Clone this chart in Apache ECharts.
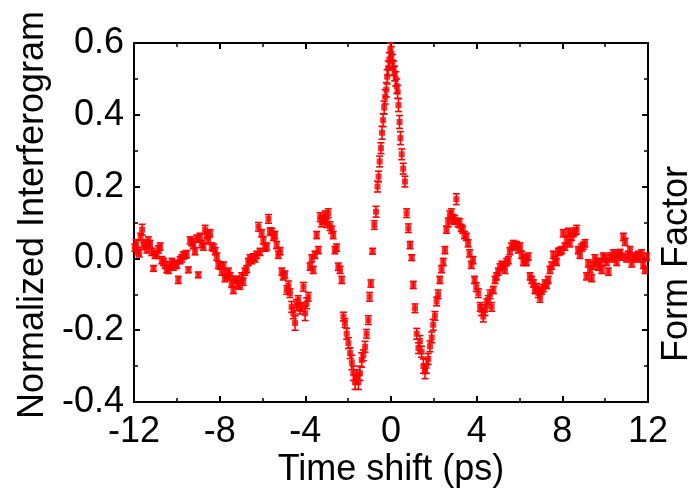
<!DOCTYPE html>
<html>
<head>
<meta charset="utf-8">
<script src="https://cdn.jsdelivr.net/npm/echarts@6/dist/echarts.min.js"></script>
<style>html,body{margin:0;padding:0;background:#fff}#c{width:695px;height:502px}</style>
</head>
<body>
<div id="c"></div>
<script>
// ---- data ----
const timeShift = [
-11.96,-11.90,-11.83,-11.76,-11.69,-11.62,-11.55,-11.48,-11.40,-11.33,-11.25,-11.17,-11.09,-11.02,-10.94,-10.86,-10.78,-10.70,-10.62,-10.55,
-10.47,-10.39,-10.31,-10.23,-10.16,-10.08,-10.00,-9.93,-9.85,-9.77,-9.70,-9.62,-9.54,-9.46,-9.38,-9.30,-9.23,-9.15,-9.07,-9.00,
-8.92,-8.84,-8.76,-8.68,-8.60,-8.53,-8.45,-8.37,-8.29,-8.21,-8.13,-8.06,-7.98,-7.90,-7.82,-7.75,-7.67,-7.59,-7.51,-7.44,
-7.36,-7.28,-7.20,-7.12,-7.05,-6.97,-6.90,-6.82,-6.74,-6.66,-6.58,-6.50,-6.43,-6.35,-6.27,-6.19,-6.12,-6.04,-5.96,-5.88,
-5.80,-5.72,-5.65,-5.57,-5.49,-5.42,-5.34,-5.26,-5.18,-5.10,-5.03,-4.95,-4.87,-4.79,-4.72,-4.64,-4.56,-4.48,-4.41,-4.33,
-4.25,-4.17,-4.09,-4.01,-3.94,-3.86,-3.78,-3.70,-3.63,-3.55,-3.47,-3.39,-3.31,-3.24,-3.16,-3.08,-3.00,-2.93,-2.85,-2.77,
-2.70,-2.62,-2.54,-2.46,-2.38,-2.30,-2.22,-2.15,-2.07,-1.99,-1.91,-1.83,-1.76,-1.68,-1.60,-1.52,-1.45,-1.37,-1.29,-1.21,
-1.14,-1.06,-1.00,-0.94,-0.86,-0.78,-0.70,-0.63,-0.58,-0.53,-0.47,-0.42,-0.37,-0.32,-0.27,-0.22,-0.18,-0.13,-0.08,-0.03,
0.02,0.07,0.12,0.17,0.22,0.27,0.31,0.35,0.40,0.44,0.50,0.57,0.65,0.73,0.81,0.89,0.97,1.04,1.12,1.20,
1.28,1.35,1.43,1.51,1.59,1.66,1.74,1.82,1.90,1.97,2.05,2.13,2.20,2.28,2.36,2.44,2.52,2.59,2.67,2.75,
2.82,2.90,2.97,3.05,3.13,3.20,3.28,3.35,3.43,3.52,3.60,3.67,3.75,3.83,3.90,3.98,4.08,4.16,4.23,4.31,
4.39,4.47,4.54,4.62,4.70,4.78,4.86,4.93,5.01,5.09,5.17,5.24,5.32,5.40,5.48,5.55,5.63,5.71,5.79,5.87,
5.94,6.02,6.10,6.18,6.26,6.33,6.41,6.49,6.57,6.65,6.72,6.80,6.88,6.96,7.03,7.11,7.19,7.27,7.34,7.42,
7.50,7.58,7.66,7.73,7.81,7.89,7.97,8.04,8.12,8.20,8.28,8.35,8.43,8.51,8.59,8.67,8.74,8.82,8.90,8.98,
9.06,9.13,9.21,9.29,9.37,9.45,9.52,9.60,9.68,9.76,9.84,9.91,9.99,10.07,10.15,10.23,10.31,10.39,10.46,10.54,
10.62,10.70,10.78,10.85,10.93,11.00,11.08,11.16,11.24,11.31,11.39,11.47,11.55,11.62,11.70,11.78,11.86,11.94
];
const interferogram = [
0.030,0.042,0.020,0.014,0.060,0.080,0.035,0.042,0.025,0.050,0.040,0.018,-0.028,0.010,0.010,0.025,0.033,-0.005,-0.010,-0.018,
-0.030,-0.032,-0.020,-0.010,-0.023,-0.015,-0.018,-0.060,-0.005,0.000,0.008,0.010,0.012,-0.032,0.050,0.045,0.037,0.020,0.055,-0.046,
0.060,0.040,0.033,0.080,0.065,0.050,0.070,0.033,0.030,0.020,0.005,-0.018,-0.020,-0.037,-0.020,-0.055,-0.045,-0.037,-0.050,-0.070,
-0.088,-0.060,-0.060,-0.074,-0.074,-0.050,-0.065,-0.037,-0.030,-0.010,0.000,-0.005,0.003,0.000,0.010,0.088,0.018,0.070,0.050,0.030,
0.033,0.110,0.075,0.074,0.060,0.065,0.037,0.010,0.020,-0.037,-0.050,-0.045,-0.088,-0.075,-0.097,-0.135,-0.153,-0.180,-0.130,-0.116,
-0.140,-0.135,-0.079,-0.153,-0.125,-0.107,-0.023,0.000,-0.032,0.010,0.065,0.023,0.115,0.100,0.107,0.120,0.098,0.126,0.090,0.080,
0.065,0.023,0.030,-0.023,-0.032,-0.060,-0.162,-0.180,-0.210,-0.236,-0.264,-0.290,-0.320,-0.345,-0.330,-0.345,-0.320,-0.283,-0.270,-0.246,
-0.210,-0.172,-0.107,-0.070,0.020,0.093,0.130,0.200,0.228,0.270,0.307,0.350,0.385,0.420,0.450,0.470,0.506,0.530,0.553,0.580,
0.570,0.548,0.530,0.515,0.500,0.480,0.464,0.427,0.380,0.335,0.290,0.250,0.214,0.126,0.084,0.037,0.002,-0.074,-0.139,-0.210,
-0.250,-0.230,-0.260,-0.300,-0.315,-0.300,-0.280,-0.245,-0.220,-0.185,-0.160,-0.120,-0.100,-0.060,-0.030,-0.010,0.023,0.080,0.100,0.120,
0.126,0.110,0.107,0.165,0.100,0.098,0.085,0.080,0.065,0.060,0.042,0.014,-0.018,-0.005,-0.060,-0.080,-0.097,-0.135,-0.144,-0.162,
-0.144,-0.125,-0.116,-0.100,-0.135,-0.088,-0.060,-0.050,-0.037,-0.025,-0.018,-0.020,-0.032,-0.010,-0.005,0.020,0.033,0.040,0.035,0.037,
0.025,0.033,0.010,-0.010,0.000,-0.010,0.005,-0.050,-0.060,-0.070,-0.088,-0.080,-0.097,-0.110,-0.090,-0.083,-0.070,-0.074,-0.060,-0.032,
-0.020,0.010,-0.005,-0.010,0.018,0.020,0.023,0.070,0.033,0.050,0.074,0.042,0.060,0.070,0.075,0.080,0.023,0.010,0.030,0.035,
0.042,-0.050,-0.014,-0.030,-0.055,-0.020,0.000,-0.010,-0.023,-0.010,-0.032,0.005,0.000,-0.010,-0.037,0.005,0.000,0.014,0.005,-0.010,
0.010,0.015,0.005,0.060,0.046,0.000,0.010,0.023,-0.014,0.005,0.000,0.005,0.010,0.000,0.014,-0.018,-0.032,0.005
];
const errorBar = [
0.010,0.010,0.010,0.010,0.010,0.015,0.010,0.010,0.010,0.010,0.010,0.010,0.008,0.010,0.010,0.010,0.010,0.010,0.010,0.010,
0.010,0.010,0.010,0.010,0.010,0.010,0.010,0.010,0.010,0.010,0.010,0.010,0.010,0.008,0.010,0.010,0.010,0.010,0.010,0.008,
0.010,0.010,0.010,0.012,0.010,0.010,0.010,0.010,0.010,0.010,0.010,0.010,0.010,0.010,0.010,0.010,0.010,0.010,0.010,0.010,
0.010,0.010,0.010,0.010,0.012,0.010,0.010,0.010,0.010,0.010,0.010,0.010,0.010,0.010,0.010,0.012,0.010,0.010,0.010,0.010,
0.010,0.012,0.010,0.010,0.010,0.010,0.010,0.010,0.010,0.010,0.010,0.010,0.012,0.012,0.012,0.015,0.015,0.020,0.015,0.012,
0.015,0.012,0.012,0.020,0.015,0.012,0.010,0.010,0.010,0.010,0.010,0.010,0.012,0.012,0.012,0.012,0.012,0.012,0.012,0.010,
0.010,0.010,0.010,0.010,0.010,0.010,0.012,0.012,0.015,0.015,0.015,0.020,0.020,0.020,0.020,0.020,0.020,0.020,0.015,0.015,
0.012,0.012,0.012,0.010,0.008,0.012,0.015,0.015,0.015,0.015,0.015,0.018,0.018,0.018,0.020,0.020,0.020,0.020,0.020,0.020,
0.020,0.020,0.020,0.020,0.020,0.020,0.018,0.018,0.018,0.018,0.015,0.015,0.015,0.012,0.012,0.010,0.008,0.010,0.012,0.015,
0.015,0.015,0.015,0.020,0.020,0.020,0.015,0.015,0.015,0.015,0.012,0.012,0.012,0.010,0.010,0.010,0.010,0.010,0.012,0.012,
0.012,0.012,0.012,0.015,0.012,0.012,0.010,0.010,0.010,0.010,0.010,0.010,0.010,0.010,0.010,0.012,0.012,0.012,0.015,0.015,
0.015,0.012,0.012,0.012,0.012,0.010,0.010,0.010,0.010,0.010,0.010,0.010,0.010,0.010,0.010,0.010,0.010,0.010,0.010,0.010,
0.010,0.010,0.010,0.010,0.010,0.010,0.010,0.010,0.010,0.010,0.010,0.010,0.012,0.012,0.010,0.010,0.010,0.010,0.010,0.010,
0.010,0.010,0.010,0.010,0.010,0.010,0.010,0.010,0.010,0.010,0.010,0.010,0.010,0.010,0.010,0.012,0.010,0.010,0.010,0.010,
0.010,0.010,0.010,0.010,0.010,0.010,0.010,0.010,0.010,0.010,0.010,0.010,0.010,0.010,0.010,0.010,0.010,0.010,0.010,0.010,
0.010,0.010,0.010,0.010,0.010,0.010,0.010,0.010,0.010,0.010,0.010,0.010,0.010,0.010,0.010,0.010,0.010,0.010
];
const xTickLabels = ['-12','-8','-4','0','4','8','12'];
const yTickLabels = ['-0.4','-0.2','0.0','0.2','0.4','0.6'];
const xTitle = 'Time shift (ps)';
const yTitle = 'Normalized Interferogram';
const y2Title = 'Form Factor';

// ---- chart ----
const FONT = "'Liberation Sans', Arial, sans-serif";
const RED = '#ff0000';
const FS = 36;
const chart = echarts.init(document.getElementById('c'), null, {renderer: 'canvas'});

const points = timeShift.map((t, i) => [t, interferogram[i]]);
const bars = timeShift.map((t, i) => [t, interferogram[i] - errorBar[i], interferogram[i] + errorBar[i]]);

function renderErr(params, api) {
  const x = api.value(0);
  const lo = api.coord([x, api.value(1)]);
  const hi = api.coord([x, api.value(2)]);
  const cw = 3.5;
  const st = {stroke: RED, lineWidth: 1.6};
  return {
    type: 'group',
    children: [
      {type: 'line', shape: {x1: lo[0], y1: lo[1], x2: hi[0], y2: hi[1]}, style: st},
      {type: 'line', shape: {x1: hi[0] - cw, y1: hi[1], x2: hi[0] + cw, y2: hi[1]}, style: st},
      {type: 'line', shape: {x1: lo[0] - cw, y1: lo[1], x2: lo[0] + cw, y2: lo[1]}, style: st}
    ]
  };
}

const axisCommon = {
  type: 'value',
  axisLine: {show: true, onZero: false, lineStyle: {color: '#000', width: 2}},
  axisTick: {show: true, inside: true, length: 6, lineStyle: {color: '#000', width: 2}},
  minorTick: {show: true, splitNumber: 2, length: 4, lineStyle: {color: '#000', width: 1.5}},
  splitLine: {show: false},
  minorSplitLine: {show: false}
};

chart.setOption({
  animation: false,
  backgroundColor: '#fff',
  grid: {left: 134, right: 47, top: 43, bottom: 100},
  xAxis: [
    Object.assign({}, axisCommon, {
      position: 'bottom', min: -12, max: 12, interval: 4,
      axisLabel: {show: true, margin: 12, fontSize: FS, color: '#000', fontFamily: FONT,
        formatter: v => xTickLabels[Math.round((v + 12) / 4)]}
    }),
    Object.assign({}, axisCommon, {
      position: 'top', min: -12, max: 12, interval: 4, axisLabel: {show: false}
    })
  ],
  yAxis: [
    Object.assign({}, axisCommon, {
      position: 'left', min: -0.4, max: 0.6, interval: 0.2,
      axisLabel: {show: true, margin: 10, fontSize: FS, color: '#000', fontFamily: FONT,
        formatter: v => yTickLabels[Math.round((v + 0.4) / 0.2)]}
    }),
    Object.assign({}, axisCommon, {
      position: 'right', min: -0.4, max: 0.6, interval: 0.2, axisLabel: {show: false}
    })
  ],
  series: [
    {
      type: 'custom', xAxisIndex: 0, yAxisIndex: 0,
      renderItem: renderErr, data: bars, encode: {x: 0, y: [1, 2]}, z: 2, silent: true
    },
    {
      type: 'scatter', xAxisIndex: 0, yAxisIndex: 0, data: points,
      symbol: 'rect', symbolSize: 6, itemStyle: {color: RED}, z: 3, silent: true
    }
  ],
  graphic: [
    {type: 'text', x: 391, y: 470, style: {text: xTitle, fontSize: FS, fontFamily: FONT, fill: '#000', textAlign: 'center', textVerticalAlign: 'middle'}},
    {type: 'text', x: 33, y: 215, rotation: Math.PI / 2, style: {text: yTitle, fontSize: FS, fontFamily: FONT, fill: '#000', textAlign: 'center', textVerticalAlign: 'middle'}},
    {type: 'text', x: 677, y: 264, rotation: Math.PI / 2, style: {text: y2Title, fontSize: FS, fontFamily: FONT, fill: '#000', textAlign: 'center', textVerticalAlign: 'middle'}}
  ]
});
</script>
</body>
</html>
